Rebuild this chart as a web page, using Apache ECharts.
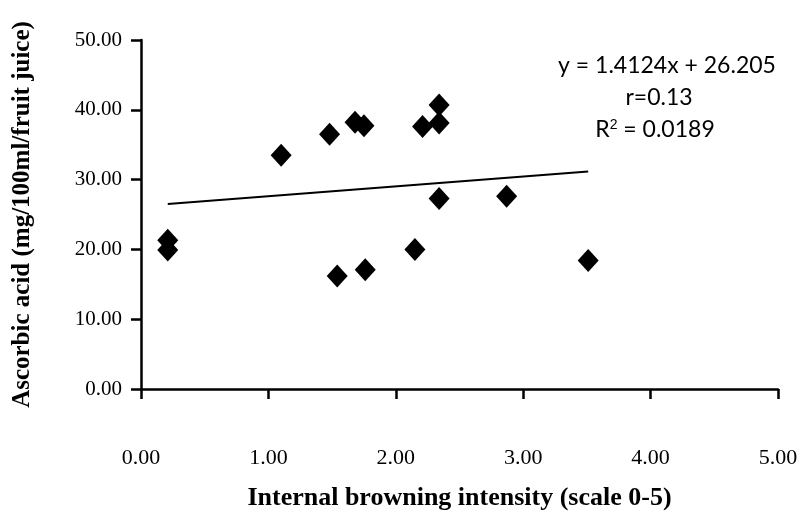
<!DOCTYPE html>
<html>
<head>
<meta charset="utf-8">
<script src="https://cdn.jsdelivr.net/npm/echarts@6/dist/echarts.min.js"></script>
<style>
  html, body { margin: 0; padding: 0; background: #fff; }
  #chart { width: 802px; height: 517px; }
</style>
</head>
<body>
<div id="chart"></div>
<script>
// browning score vs ascorbic acid
var browning = [1.10, 1.48, 1.68, 1.75, 2.21, 2.34, 2.34, 2.34, 0.21, 0.21, 1.54, 1.76, 2.15, 2.87, 3.51];
var ascorbic = [33.5, 36.5, 38.2, 37.7, 37.6, 40.7, 38.1, 27.3, 21.3, 19.9, 16.2, 17.1, 20.0, 27.6, 18.4];

// fitted line from the printed equation
var slope = 1.4124;
var intercept = 26.205;

var xTicks = [0, 1, 2, 3, 4, 5];
var yTicks = [0, 10, 20, 30, 40, 50];

function chart1() {
    var myChart = echarts.init(document.getElementById('chart'));
    var pts = browning.map(function (x, i) { return [x, ascorbic[i]]; });
    var xLo = Math.min.apply(null, browning);
    var xHi = Math.max.apply(null, browning);
    var fit = [[xLo, slope * xLo + intercept], [xHi, slope * xHi + intercept]];

    var axisLine = { show: true, lineStyle: { color: '#000', width: 2.5 } };
    var axisTick = { show: true, inside: false, length: 10, lineStyle: { color: '#000', width: 2.5 } };
    var serif = '"Liberation Serif", "DejaVu Serif", serif';
    var sans = '23px Lato, "Open Sans", sans-serif';

    var option = {
        animation: false,
        backgroundColor: '#fff',
        grid: {
            left: 141,
            right: 24,
            top: 40,
            bottom: 128
        },
        xAxis: {
            type: 'value',
            min: xTicks[0],
            max: xTicks[xTicks.length - 1],
            interval: 1,
            splitLine: { show: false },
            axisLine: axisLine,
            axisTick: axisTick,
            axisLabel: {
                margin: 58,
                color: '#000',
                fontFamily: serif,
                fontSize: 22,
                formatter: function (v) { return v.toFixed(2); }
            },
            name: 'Internal browning intensity (scale 0-5)',
            nameLocation: 'middle',
            nameGap: 96,
            nameTextStyle: {
                color: '#000',
                fontFamily: serif,
                fontWeight: 'bold',
                fontSize: 26
            }
        },
        yAxis: {
            type: 'value',
            min: yTicks[0],
            max: yTicks[yTicks.length - 1],
            interval: 10,
            splitLine: { show: false },
            axisLine: axisLine,
            axisTick: axisTick,
            axisLabel: {
                margin: 19,
                color: '#000',
                fontFamily: serif,
                fontSize: 21,
                formatter: function (v) { return v.toFixed(2); }
            },
            name: 'Ascorbic acid (mg/100ml/fruit juice)',
            nameLocation: 'middle',
            nameGap: 106,
            nameTextStyle: {
                color: '#000',
                fontFamily: serif,
                fontWeight: 'bold',
                fontSize: 25
            }
        },
        graphic: [
            {
                type: 'text',
                x: 667, y: 66,
                style: {
                    text: 'y = 1.4124x + 26.205',
                    align: 'center', verticalAlign: 'middle',
                    font: sans, fill: '#000'
                }
            },
            {
                type: 'text',
                x: 659, y: 98,
                style: {
                    text: 'r=0.13',
                    align: 'center', verticalAlign: 'middle',
                    font: sans, fill: '#000'
                }
            },
            {
                type: 'text',
                x: 655, y: 130,
                style: {
                    text: 'R{s|2} = 0.0189',
                    rich: { s: { fontSize: 14, verticalAlign: 'top', padding: [0, 0, 8, 0] } },
                    align: 'center', verticalAlign: 'middle',
                    font: sans, fill: '#000'
                }
            }
        ],
        series: [
            {
                type: 'line',
                data: fit,
                showSymbol: false,
                symbol: 'none',
                lineStyle: { color: '#000', width: 2 },
                z: 1
            },
            {
                type: 'scatter',
                data: pts,
                symbol: 'diamond',
                symbolSize: [21, 23],
                itemStyle: { color: '#000', opacity: 1 },
                z: 2
            }
        ]
    };
    myChart.setOption(option);
}
chart1();
</script>
</body>
</html>
